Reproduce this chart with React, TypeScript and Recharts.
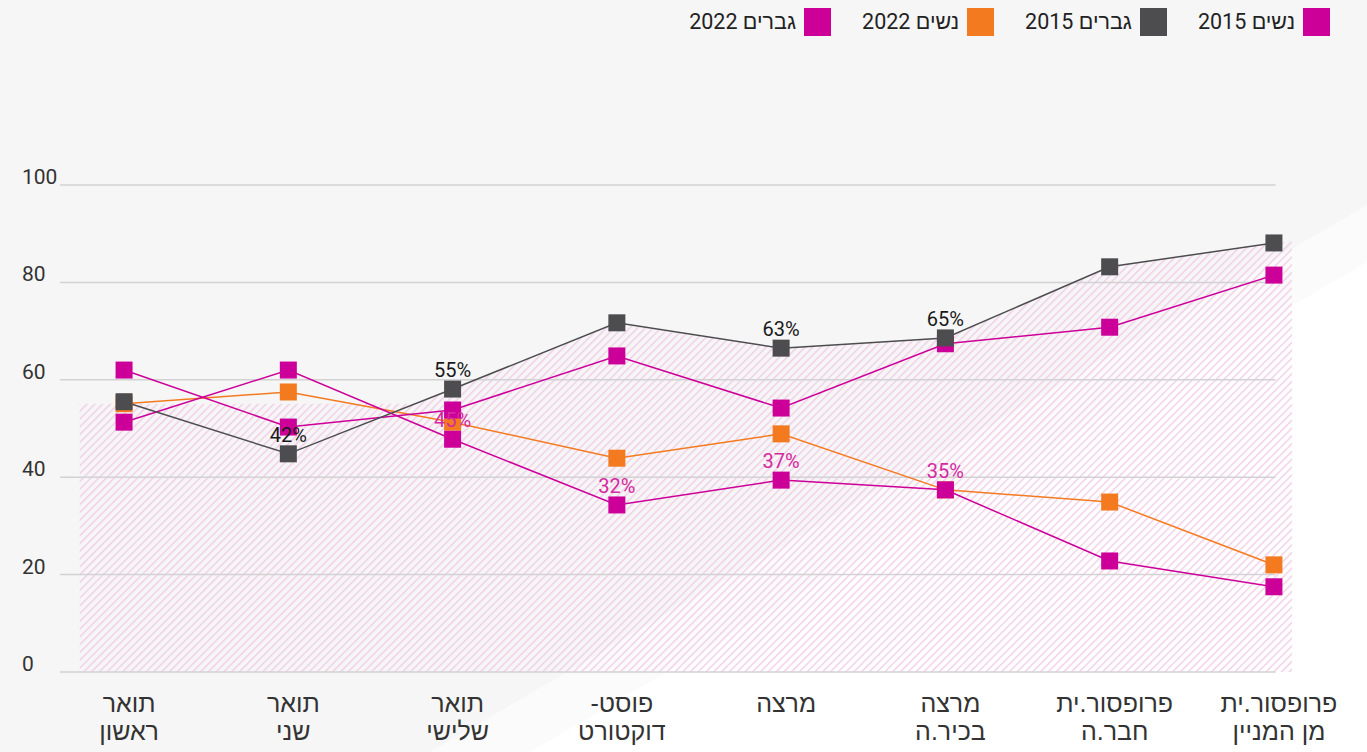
import React from 'react'
import { ComposedChart, Line, Area, XAxis, YAxis, ReferenceLine, LabelList } from 'recharts'

const categories = [
  ['תואר', 'ראשון'],
  ['תואר', 'שני'],
  ['תואר', 'שלישי'],
  ['פוסט-', 'דוקטורט'],
  ['מרצה'],
  ['מרצה', 'בכיר.ה'],
  ['פרופסור.ית', 'חבר.ה'],
  ['פרופסור.ית', 'מן המניין'],
]

const women2015 = [51.3, 62.0, 47.8, 34.3, 39.4, 37.4, 22.8, 17.5]
const men2015 = [55.5, 44.8, 58.1, 71.7, 66.5, 68.6, 83.2, 88.1]
const women2022 = [55.1, 57.5, 51.3, 43.9, 48.9, 37.4, 34.9, 22.0]
const men2022 = [62.0, 50.3, 53.8, 64.9, 54.2, 67.4, 70.8, 81.5]

const women2015Labels = ['', '', '45%', '32%', '37%', '35%', '', '']
const men2015Labels = ['', '42%', '55%', '', '63%', '65%', '', '']

// decorative hatched band under the men 2015 line
const hatchX = [-0.27, 1.77, 2, 3, 4, 5, 6, 7, 7.11]
const hatchTop = [55.1, 55.1, 58.1, 71.7, 66.5, 68.6, 83.2, 88.1, 88.4]

const yTicks = [0, 20, 40, 60, 80, 100]

const MAGENTA = '#cc0099'
const GRAY = '#4d4d4f'
const ORANGE = '#f47a20'
const LABEL_MAGENTA = '#d42aa0'

const legendItems = [
  { name: 'נשים 2015', color: MAGENTA },
  { name: 'גברים 2015', color: GRAY },
  { name: 'נשים 2022', color: ORANGE },
  { name: 'גברים 2022', color: MAGENTA },
]

const rows = categories.map((_, i) => ({
  x: i,
  w15: women2015[i],
  m15: men2015[i],
  w22: women2022[i],
  m22: men2022[i],
  lw15: women2015Labels[i],
  lm15: men2015Labels[i],
}))

const hatchRows = hatchX.map((x, i) => ({ x, top: hatchTop[i] }))

const FONT_NUM = 'Roboto, "Liberation Sans Narrow", "Liberation Sans", sans-serif'
const FONT_HEB = '"Liberation Sans Narrow", "Liberation Sans", sans-serif'

const squareDot = (color: string) => (props: any) => {
  const { cx, cy, index } = props
  if (cx == null || cy == null) return <g key={index} />
  return <rect key={index} x={cx - 8.5} y={cy - 8.5} width={17} height={17} fill={color} />
}

const XTick = (props: any) => {
  const { x, y, payload } = props
  const lines = categories[payload.value] || []
  return (
    <text x={x + 5} y={y} textAnchor="middle" direction="rtl" fontSize={25} fill="#333" fontFamily={FONT_HEB}>
      {lines.map((l, i) => (
        <tspan key={i} x={x + 5} dy={i === 0 ? 32 : 28}>
          {l}
        </tspan>
      ))}
    </text>
  )
}

const YTick = (props: any) => {
  const { y, payload } = props
  return (
    <text x={22} y={y} dy={-1} textAnchor="start" fontSize={21} fill="#333" fontFamily={FONT_NUM}>
      {payload.value}
    </text>
  )
}

export default function App() {
  return (
    <div style={{ position: 'absolute', left: 0, top: 0, width: 1367, height: 752, background: '#f6f6f6', overflow: 'hidden' }}>
      <svg width={1367} height={752} style={{ position: 'absolute', left: 0, top: 0 }}>
        <polygon points="430,752 1367,205 1367,752" fill="#fbfbfb" />
        <polygon points="530,752 1367,262 1367,752" fill="#ffffff" />
      </svg>

      <div
        style={{
          position: 'absolute',
          top: 8,
          right: 37,
          display: 'flex',
          flexDirection: 'row',
          direction: 'rtl',
          gap: 31,
          fontFamily: FONT_NUM,
          fontSize: 21.5,
          color: '#222',
        }}
      >
        {legendItems.map((it) => (
          <div key={it.name} style={{ display: 'flex', alignItems: 'center', gap: 8, height: 28 }}>
            <span style={{ width: 27, height: 28, background: it.color, display: 'inline-block' }} />
            <span>{it.name}</span>
          </div>
        ))}
      </div>

      <div style={{ position: 'absolute', left: 0, top: 0 }}>
        <ComposedChart width={1367} height={752} margin={{ top: 185, right: 75, bottom: 10, left: 0 }}>
          <defs>
            <pattern id="hatch" patternUnits="userSpaceOnUse" width={5.5} height={10} patternTransform="rotate(45)">
              <line x1={0.75} y1={0} x2={0.75} y2={10} stroke="#f1c9e6" strokeWidth={1.3} />
            </pattern>
          </defs>
          <XAxis
            dataKey="x"
            type="number"
            domain={[-0.39, 7.11]}
            ticks={[0, 1, 2, 3, 4, 5, 6, 7]}
            allowDataOverflow
            axisLine={false}
            tickLine={false}
            height={70}
            tick={<XTick />}
            interval={0}
          />
          <YAxis
            type="number"
            domain={[0, 100]}
            ticks={yTicks}
            width={60}
            axisLine={false}
            tickLine={false}
            tick={<YTick />}
          />
          <Area
            data={hatchRows}
            dataKey="top"
            type="linear"
            stroke="none"
            fill="url(#hatch)"
            fillOpacity={1}
            isAnimationActive={false}
          />
          {yTicks.map((v) => (
            <ReferenceLine
              key={v}
              segment={[
                { x: -0.39, y: v },
                { x: 7.01, y: v },
              ]}
              stroke="#d2d2d2"
              strokeWidth={1.5}
              ifOverflow="visible"
            />
          ))}
          <Line data={rows} dataKey="w22" stroke={ORANGE} strokeWidth={1.5} dot={squareDot(ORANGE)} isAnimationActive={false} />
          <Line data={rows} dataKey="w15" stroke={MAGENTA} strokeWidth={1.5} dot={squareDot(MAGENTA)} isAnimationActive={false}>
            <LabelList dataKey="lw15" position="top" offset={12} fill={LABEL_MAGENTA} fontSize={20} fontFamily={FONT_NUM} />
          </Line>
          <Line data={rows} dataKey="m22" stroke={MAGENTA} strokeWidth={1.5} dot={squareDot(MAGENTA)} isAnimationActive={false} />
          <Line data={rows} dataKey="m15" stroke={GRAY} strokeWidth={1.5} dot={squareDot(GRAY)} isAnimationActive={false}>
            <LabelList dataKey="lm15" position="top" offset={12} fill="#1a1a1a" fontSize={20} fontFamily={FONT_NUM} />
          </Line>
        </ComposedChart>
      </div>
    </div>
  )
}
